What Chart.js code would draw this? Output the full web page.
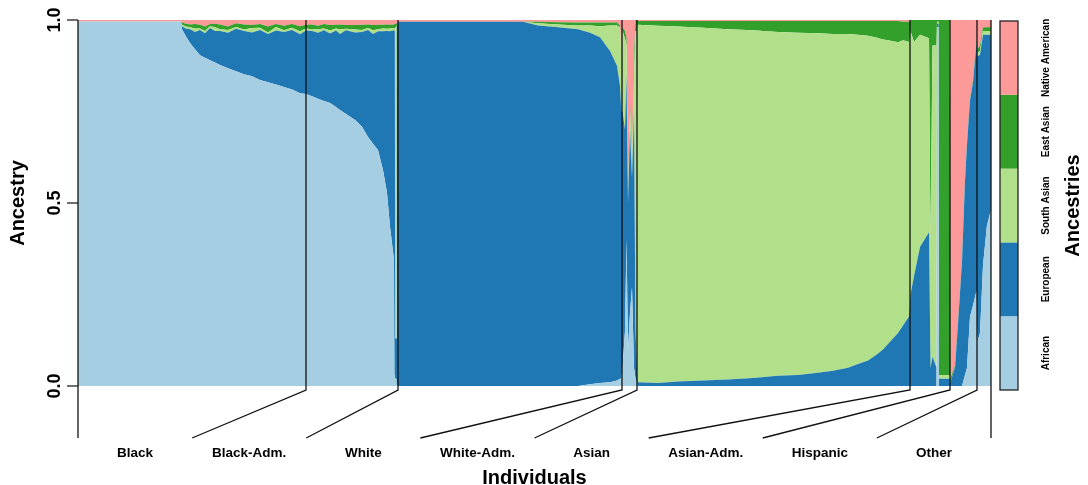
<!DOCTYPE html>
<html>
<head>
<meta charset="utf-8">
<script src="https://cdn.jsdelivr.net/npm/chart.js@4.4.1/dist/chart.umd.min.js"></script>
<style>
  html, body { margin: 0; padding: 0; background: #fff; }
  canvas { display: block; }
</style>
</head>
<body>
<canvas id="admix" width="1088" height="485" style="width:1088px;height:485px"></canvas>
<script>
// individuals sorted by group, x = individual index
const groups = ["Black", "Black-Adm.", "White", "White-Adm.", "Asian", "Asian-Adm.", "Hispanic", "Other"];
const groupBounds = [0, 228, 320, 544, 559, 832, 872, 899, 913];
const ancestries = ["African", "European", "South Asian", "East Asian", "Native American"];
const yTicks = [0, 0.5, 1];

const pos = [0,103,104,108,112,117,122,127,132,137,142,150,158,166,174,182,190,198,206,214,222,
  228,234,240,246,252,258,262,268,277,284,290,295,300,305,309,312,316,316.8,317.2,318.4,318.8,
  320,445,460,480,500,512,522,532,539,542,543.3,
  544.5,547,548.5,550,552,554,556,557.5,558.8,
  559.5,580,600,625,650,675,700,720,740,755,770,780,790,798,805,810,815,820,825,831,
  832.5,836,842,851,852.5,854.5,858.5,859,860.6,861,871.5,
  872.3,877,880,884,887,889,892,895,898.5,
  899.3,902,905,909,913];

const african = [.996,.996,.975,.955,.937,.92,.904,.897,.89,.884,.877,.868,.86,.852,.846,.836,.83,.824,.817,.81,.80,
  .798,.792,.785,.779,.773,.762,.754,.743,.727,.708,.68,.662,.645,.59,.527,.435,.344,.03,.02,.02,.005,
  0,0,0,0,0,.005,.008,.01,.015,.02,.02,
  .05,.15,.40,.10,.20,.27,.05,.02,.01,
  0,0,0,0,0,0,0,0,0,0,0,0,0,0,0,0,0,0,0,0,
  0,0,0,0,0,0,0,.98,.98,0,0,
  0,0,0,0,.03,.05,.19,.22,.26,
  .12,.145,.33,.44,.48];

const european = [0,0,.008,.021,.038,.047,.069,.067,.088,.086,.093,.097,.116,.118,.12,.137,.132,.147,.15,.163,.161,
  .173,.178,.18,.193,.19,.209,.208,.229,.239,.259,.293,.30,.324,.379,.443,.534,.628,.938,.11,.11,.975,
  .995,.995,.985,.98,.975,.96,.945,.905,.86,.80,.73,
  .70,.55,.45,.40,.50,.30,.70,.13,.05,
  .01,.008,.012,.015,.018,.022,.028,.03,.036,.042,.05,.06,.07,.085,.10,.115,.13,.145,.165,.19,
  .25,.30,.38,.42,.05,.08,.05,.01,.01,.02,.02,
  .01,.05,.17,.34,.53,.61,.59,.61,.68,
  .78,.76,.63,.52,.48];

const southAsian = [0,0,.004,.006,.005,.01,.004,.006,.005,.01,.005,.008,.005,.004,.012,.006,.004,.01,.005,.006,.008,
  .006,.004,.01,.005,.008,.006,.012,.004,.008,.006,.005,.01,.006,.008,.006,.008,.006,.008,.85,.85,.005,
  0,0,.006,.008,.01,.02,.03,.07,.11,.16,.15,
  .22,.25,.08,.02,.05,.03,.10,.82,.91,
  .977,.976,.97,.964,.957,.95,.939,.935,.928,.92,.912,.90,.887,.867,.847,.83,.812,.794,.78,.75,
  .72,.64,.58,.53,.35,.85,.88,.005,.005,.01,.01,
  0,0,0,0,0,0,0,0,0,
  .01,.01,.01,.01,.01];

const eastAsian = [0,0,.006,.008,.008,.012,.01,.012,.006,.01,.013,.009,.01,.014,.008,.01,.016,.008,.012,.01,.014,
  .01,.014,.009,.012,.015,.01,.014,.01,.012,.014,.01,.014,.012,.01,.012,.01,.01,.012,.01,.01,.005,
  0,0,.004,.006,.008,.008,.01,.008,.008,.005,0,
  .01,.02,.02,.01,.02,.01,.05,.03,.03,
  .01,.013,.015,.018,.022,.025,.03,.032,.033,.035,.035,.037,.04,.045,.05,.052,.055,.058,.05,.055,
  .03,.06,.04,.05,.60,.07,.07,.005,.005,.97,.97,
  .01,.005,.005,.005,.005,.005,.005,.005,.005,
  .01,.015,.01,.01,.01];

const nativeAmerican = [.004,.004,.007,.01,.012,.011,.013,.018,.011,.01,.012,.018,.009,.012,.014,.011,.018,.011,.016,.011,.017,
  .013,.012,.016,.011,.014,.013,.012,.014,.014,.013,.012,.014,.013,.013,.012,.013,.012,.012,.01,.01,.01,
  .005,.005,.005,.006,.007,.007,.007,.007,.007,.015,.1,
  .02,.03,.05,.47,.23,.39,.10,0,0,
  .003,.003,.003,.003,.003,.003,.003,.003,.003,.003,.003,.003,.003,.003,.003,.003,.003,.003,.005,.005,
  0,0,0,0,0,0,0,0,0,0,0,
  .98,.945,.825,.655,.435,.335,.215,.165,.055,
  .08,.07,.02,.02,.02];

const series = [african, european, southAsian, eastAsian, nativeAmerican];
const colors = ["#A6CEE3", "#1F78B4", "#B2DF8A", "#33A02C", "#FB9A99"];
series.forEach((s, k) => { if (s.length !== pos.length) console.warn("length mismatch", ancestries[k], s.length); });

const FONT = '"Liberation Sans", Arial, Helvetica, sans-serif';

function vText(ctx, txt, x, y) {
  ctx.save();
  ctx.translate(x, y);
  ctx.rotate(-Math.PI / 2);
  ctx.fillText(txt, 0, 0);
  ctx.restore();
}

// axis, group separators, labels, colour key
const frame = {
  id: "frame",
  afterDraw(chart) {
    const { ctx, chartArea: a, scales: { x, y } } = chart;
    ctx.save();
    ctx.strokeStyle = "#111";
    ctx.lineWidth = 1.3;
    const step = (a.right - a.left) / groups.length;
    groupBounds.forEach((b, i) => {
      const px = x.getPixelForValue(b);
      ctx.beginPath();
      ctx.moveTo(px, a.top);
      if (i === 0 || i === groupBounds.length - 1) {
        ctx.lineTo(px, a.bottom + 52);
      } else {
        ctx.lineTo(px, a.bottom + 4);
        ctx.lineTo(a.left + step * i, a.bottom + 52);
      }
      ctx.stroke();
    });

    ctx.fillStyle = "#000";
    ctx.textAlign = "center";
    ctx.textBaseline = "middle";
    ctx.font = "bold 13.5px " + FONT;
    groups.forEach((g, i) => ctx.fillText(g, a.left + step * (i + 0.5), a.bottom + 67));
    ctx.font = "bold 20px " + FONT;
    ctx.fillText("Individuals", (a.left + a.right) / 2, a.bottom + 92);

    // y ticks
    ctx.lineWidth = 1.2;
    ctx.font = "bold 18px " + FONT;
    yTicks.forEach(v => {
      const py = y.getPixelForValue(v);
      ctx.beginPath();
      ctx.moveTo(a.left - 11, py);
      ctx.lineTo(a.left, py);
      ctx.stroke();
      vText(ctx, v.toFixed(1), a.left - 23, py);
    });
    ctx.font = "bold 20px " + FONT;
    vText(ctx, "Ancestry", 18, (a.top + a.bottom) / 2);

    // colour key
    const kx = a.right + 9, kw = 18, kt = a.top + 1, kb = a.bottom + 4;
    const kh = (kb - kt) / ancestries.length;
    ancestries.forEach((name, k) => {
      const top = kb - kh * (k + 1);
      ctx.fillStyle = colors[k];
      ctx.fillRect(kx, top, kw, kh);
      ctx.fillStyle = "#000";
      ctx.font = "bold 10px " + FONT;
      vText(ctx, name, kx + 46, top + kh / 2);
    });
    ctx.strokeStyle = "#222";
    ctx.lineWidth = 1.3;
    ctx.strokeRect(kx, kt, kw, kb - kt);
    ctx.fillStyle = "#000";
    ctx.font = "bold 20px " + FONT;
    vText(ctx, "Ancestries", kx + 73, (kt + kb) / 2);
    ctx.restore();
  }
};

new Chart(document.getElementById("admix"), {
  type: "line",
  data: {
    datasets: ancestries.map((name, k) => ({
      label: name,
      data: pos.map((p, i) => ({ x: p, y: series[k][i] })),
      backgroundColor: colors[k],
      borderColor: "rgba(0,0,0,0)",
      borderWidth: 0,
      pointRadius: 0,
      tension: 0,
      fill: k === 0 ? "origin" : "-1"
    }))
  },
  options: {
    responsive: false,
    animation: false,
    events: [],
    layout: { padding: { left: 78, right: 97, top: 20, bottom: 99 } },
    scales: {
      x: { type: "linear", min: groupBounds[0], max: groupBounds[groupBounds.length - 1], display: false },
      y: { stacked: true, min: 0, max: 1, display: false }
    },
    plugins: { legend: { display: false }, tooltip: { enabled: false } }
  },
  plugins: [frame]
});
</script>
</body>
</html>
